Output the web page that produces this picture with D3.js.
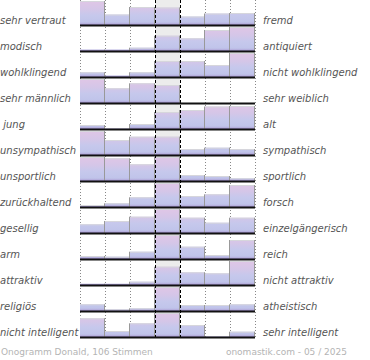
<!DOCTYPE html>
<html><head><meta charset="utf-8">
<script src="https://cdn.jsdelivr.net/npm/d3@7"></script>
<style>
html,body{margin:0;padding:0;background:#fff;}
svg{display:block;}
</style></head>
<body>
<svg id="chart" width="370" height="360"></svg>
<script>
const leftLabels = ["sehr vertraut","modisch","wohlklingend","sehr männlich"," jung","unsympathisch","unsportlich","zurückhaltend","gesellig","arm","attraktiv","religiös","nicht intelligent"];
const rightLabels = ["fremd","antiquiert","nicht wohlklingend","sehr weiblich","alt","sympathisch","sportlich","forsch","einzelgängerisch","reich","nicht attraktiv","atheistisch","sehr intelligent"];
// share of votes (%) per level, 7 levels from left to right
const values = [
  [24, 10.5, 18, 17.5, 8.5, 11.5, 12],
  [1.5, 1.5, 3.3, 15.3, 12.7, 21, 45],
  [4.7, 1.5, 4.7, 16, 16, 12, 45],
  [47.6, 14.7, 19.7, 18, 0, 0, 0],
  [4, 0.5, 5, 17, 19, 22.5, 23],
  [29, 15, 18.3, 18.3, 6, 7.3, 6],
  [24, 22.7, 16.7, 24, 6, 5, 2.7],
  [2, 3.7, 9.7, 39, 11, 12.7, 22],
  [8.7, 12, 16.3, 24, 15.3, 10.3, 15.3],
  [3, 2.3, 7.3, 52, 12.3, 4, 19],
  [1.3, 1.3, 3.3, 18.3, 12.7, 11.7, 51.4],
  [6.7, 1.7, 2.7, 76, 6, 6, 6.7],
  [18.7, 6, 13.7, 44, 12, 0.5, 5.3]
];
const levels = [0,1,2,3,4,5,6];
const footerLeft = "Onogramm Donald, 106 Stimmen";
const footerRight = "onomastik.com - 05 / 2025";

const svg = d3.select("#chart");
const rowScale = d3.scaleBand().domain(d3.range(values.length)).range([-1, 337]);
const x = d3.scaleBand().domain(levels).range([80, 255]);
const h = d3.scaleLinear().domain([0, 24]).range([0, 24]).clamp(true);
const rowH = h.range()[1];
const bottom = rowScale.range()[1];

const defs = svg.append("defs");
const grad = defs.append("linearGradient").attr("id","barGrad")
  .attr("gradientUnits","userSpaceOnUse").attr("x1",0).attr("x2",0).attr("y1",-rowH).attr("y2",0);
[[0,"#e0c6e6"],[0.35,"#d4c6e8"],[0.6,"#c6c8ec"],[0.88,"#c0c4ea"],[0.95,"#b4acdc"],[1,"#9c8ccc"]]
  .forEach(([o,c]) => grad.append("stop").attr("offset",o).attr("stop-color",c));

// middle column background
svg.append("rect").attr("x", x(3)).attr("y", 0).attr("width", x.bandwidth()).attr("height", bottom)
  .attr("fill", "#ececec");

// dotted grid lines
const gridX = [0,1,2,5,6].map(i => x(i)).concat([x(6) + x.bandwidth()]);
svg.append("g").selectAll("line").data(gridX).join("line")
  .attr("x1", d => d + 0.5).attr("x2", d => d + 0.5).attr("y1", 0).attr("y2", bottom)
  .attr("stroke", "#888").attr("stroke-dasharray", "1,2");

const rows = svg.append("g").selectAll("g.row").data(values).join("g")
  .attr("class","row")
  .attr("transform", (d,i) => `translate(0,${rowScale(i) + rowScale.bandwidth()})`);

rows.selectAll("rect.bar").data(d => d).join("rect").attr("class","bar")
  .attr("x", (d,i) => x(i)).attr("width", x.bandwidth())
  .attr("y", d => -h(d)).attr("height", d => h(d))
  .attr("fill", "url(#barGrad)");

// light top edge of bars
rows.selectAll("line.top").data(d => d.filter(v => h(v) > 1.5).length ? d : []).join("line").attr("class","top")
  .attr("x1", (d,i) => x(i)).attr("x2", (d,i) => x(i) + x.bandwidth())
  .attr("y1", d => -h(d) + 0.5).attr("y2", d => -h(d) + 0.5)
  .attr("stroke", d => h(d) > 1.5 ? "#d6d6dc" : "none").attr("stroke-width", 1);

// vertical edges between bars
rows.selectAll("line.edge").data(d => levels.map(i => ({i, v: Math.max(d[i], i < 6 ? d[i+1] : 0)}))).join("line")
  .attr("class","edge")
  .attr("x1", e => x(e.i) + x.bandwidth() - 0.5).attr("x2", e => x(e.i) + x.bandwidth() - 0.5)
  .attr("y1", e => -h(e.v)).attr("y2", 0)
  .attr("stroke", e => h(e.v) > 0.5 ? "#999" : "none").attr("stroke-width", 1);

// dashed middle lines
svg.append("g").selectAll("line").data([x(3), x(4)]).join("line")
  .attr("x1", d => d + 0.5).attr("x2", d => d + 0.5).attr("y1", 0).attr("y2", bottom)
  .attr("stroke", "#000").attr("stroke-dasharray", "3,2");

// baselines
rows.append("line").attr("x1", x(0)).attr("x2", x(6) + x.bandwidth()).attr("y1", 0.5).attr("y2", 0.5)
  .attr("stroke", "#111").attr("stroke-width", 2);

const labelStyle = sel => sel.attr("font-family","DejaVu Sans").attr("font-style","italic")
  .attr("font-size", 10).attr("fill", "#555").style("white-space","pre");
rows.append("text").attr("x", 0).attr("y", -1.5).text((d,i) => leftLabels[i]).call(labelStyle);
rows.append("text").attr("x", 263).attr("y", -1.5).text((d,i) => rightLabels[i]).call(labelStyle);

svg.append("text").attr("x", 1).attr("y", 355).text(footerLeft)
  .attr("font-family","DejaVu Sans").attr("font-size", 9).attr("fill", "#b4b4b4");
svg.append("text").attr("x", 347).attr("y", 355).attr("text-anchor","end").text(footerRight)
  .attr("font-family","DejaVu Sans").attr("font-size", 9).attr("fill", "#b4b4b4");
</script>
</body></html>
